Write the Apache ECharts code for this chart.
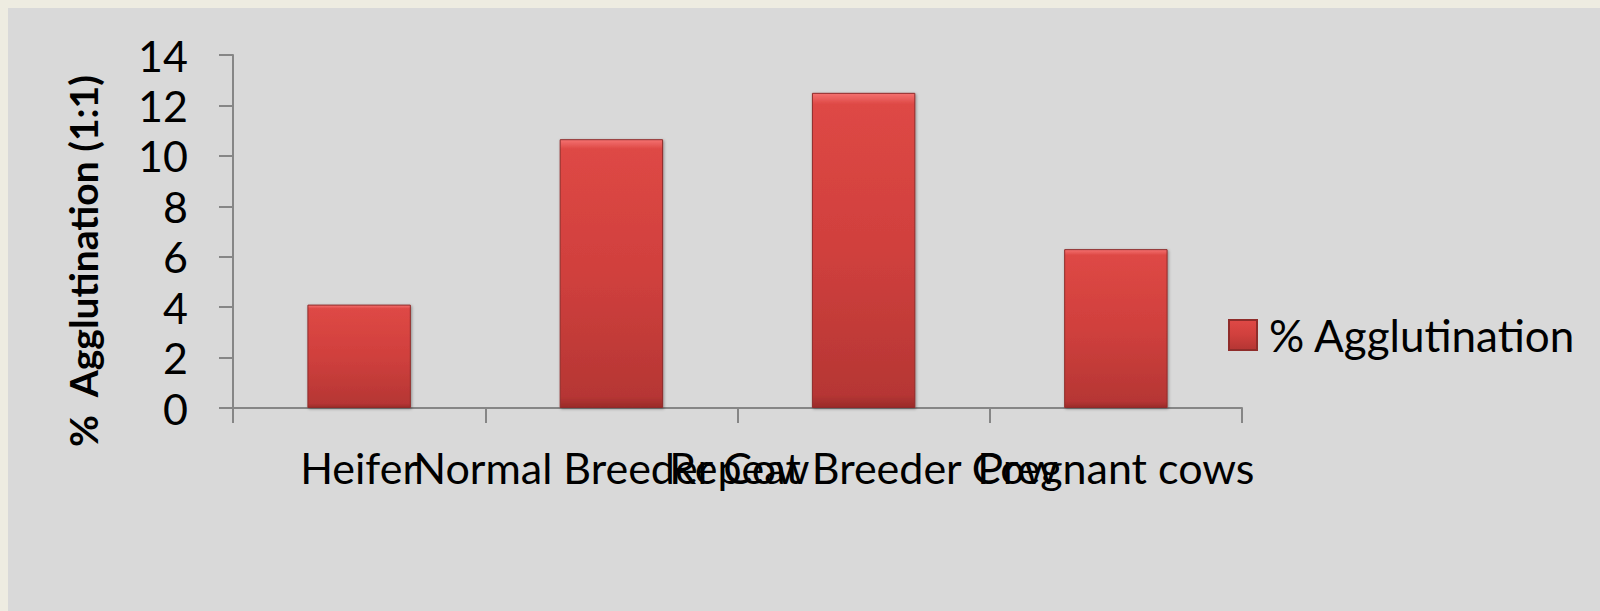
<!DOCTYPE html>
<html>
<head>
<meta charset="utf-8">
<script src="https://cdn.jsdelivr.net/npm/echarts@6/dist/echarts.min.js"></script>
<style>
  html, body { margin: 0; padding: 0; background: #eeece1; }
  #frame { position: absolute; left: 8px; top: 8px; width: 1592px; height: 603px; background: #d9d9d9; }
  #chart { width: 1592px; height: 603px; }
</style>
</head>
<body>
<div id="frame"><div id="chart"></div></div>
<script>
// Agglutination rate (1:1 dilution) by animal group
const categories = ['Heifer', 'Normal Breeder Cow', 'Repeat Breeder Cow', 'Pregnant cows'];
const agglutination = [4.1, 10.66, 12.5, 6.3];
const seriesName = '% Agglutination';
const yTitle = '%  Agglutination (1:1)';
const yTicks = { min: 0, max: 14, interval: 2 };

const FONT = 'Lato';
const axisGray = '#868686';

const barFill = new echarts.graphic.LinearGradient(0, 0, 0, 1, [
  { offset: 0, color: '#f47270' },
  { offset: 0.035, color: '#de4845' },
  { offset: 0.5, color: '#d0403d' },
  { offset: 0.96, color: '#b63634' },
  { offset: 1, color: '#9a2b29' }
]);

const chart = echarts.init(document.getElementById('chart'), null, { renderer: 'svg' });
chart.setOption({
  animation: false,
  backgroundColor: '#d9d9d9',
  textStyle: { fontFamily: FONT },
  grid: { left: 225, top: 47, width: 1009, height: 353, containLabel: false },
  legend: {
    data: [seriesName],
    orient: 'vertical',
    left: 1220,
    top: 305,
    padding: 0,
    itemWidth: 28,
    itemHeight: 30,
    icon: 'rect',
    textStyle: { fontFamily: FONT, fontSize: 44, color: '#000', padding: [0, 0, 0, 7] }
  },
  xAxis: {
    type: 'category',
    data: categories,
    axisLine: { lineStyle: { color: axisGray, width: 2 } },
    axisTick: { show: true, length: 15, alignWithLabel: false, lineStyle: { color: axisGray, width: 2 } },
    axisLabel: { interval: 0, margin: 38, color: '#000', fontFamily: FONT, fontSize: 43, hideOverlap: false }
  },
  yAxis: {
    type: 'value',
    min: yTicks.min,
    max: yTicks.max,
    interval: yTicks.interval,
    splitLine: { show: false },
    axisLine: { show: true, lineStyle: { color: axisGray, width: 2 } },
    axisTick: { show: true, length: 14, lineStyle: { color: axisGray, width: 2 } },
    axisLabel: { margin: 45, color: '#000', fontFamily: FONT, fontSize: 43 }
  },
  graphic: [{
    type: 'text',
    x: 75,
    y: 253,
    rotation: Math.PI / 2,
    style: {
      text: yTitle,
      fill: '#000',
      font: 'bold 39px ' + FONT,
      textAlign: 'center',
      textVerticalAlign: 'middle'
    }
  }],
  series: [{
    name: seriesName,
    type: 'bar',
    data: agglutination,
    barWidth: '41%',
    itemStyle: {
      color: barFill,
      borderColor: '#8f2c2a',
      borderWidth: 1,
      shadowColor: 'rgba(0,0,0,0.35)',
      shadowBlur: 3,
      shadowOffsetX: 1,
      shadowOffsetY: 1
    }
  }]
});
</script>
</body>
</html>
